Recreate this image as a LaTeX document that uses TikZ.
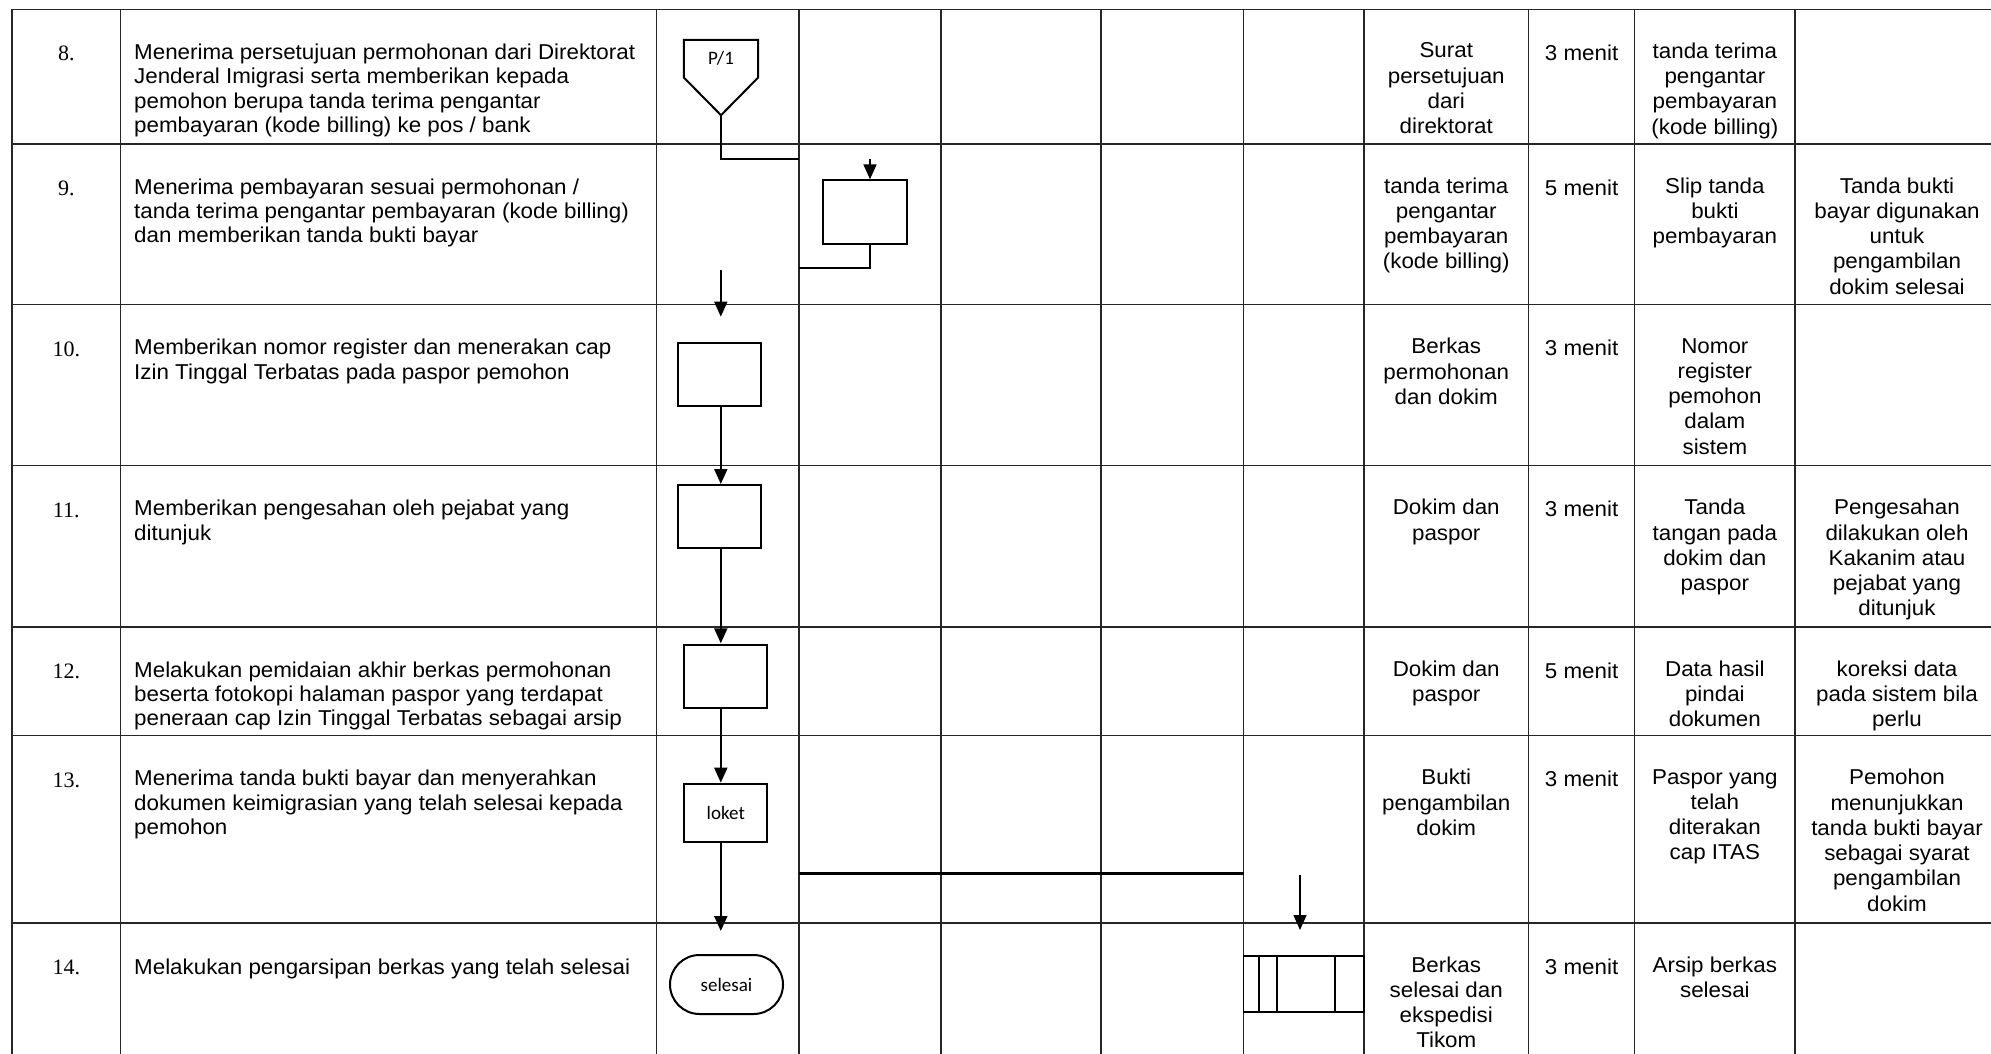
\documentclass[tikz,border=0pt]{standalone}
\usepackage{fontspec}
\setmainfont{Liberation Sans}[FakeStretch=1.04]
\newfontfamily\numfont{Liberation Serif}
\newfontfamily\flowfont{Carlito}
\usetikzlibrary{arrows.meta,calc}
\begin{document}
\begin{tikzpicture}[x=1pt,y=-1pt,
  grid/.style={line width=1.15pt, black!85},
  desc/.style={anchor=north west, inner sep=0pt, align=left, font=\fontsize{21.5}{24.3}\selectfont, execute at begin node=\strut},
  cell/.style={anchor=north, inner sep=0pt, align=center, font=\fontsize{21.5}{25.3}\selectfont, execute at begin node=\strut},
  num/.style={anchor=base, inner sep=0pt, font=\numfont\fontsize{22}{24}\selectfont},
  flowtext/.style={inner sep=0pt, font=\flowfont\fontsize{19}{22}\selectfont},
  proc/.style={draw, line width=2pt, minimum width=83.2pt, minimum height=62.7pt, inner sep=0pt},
  flow/.style={line width=2pt},
  arr/.style={-{Triangle[width=13pt,length=15pt]}, line width=2pt},
  thinarr/.style={-{Triangle[width=13pt,length=15pt]}, line width=1.5pt},
]
\useasboundingbox (0,0) rectangle (1991,1053);
\clip (0,0) rectangle (1991,1053);
\fill[white] (0,0) rectangle (1991,1053);

% table grid
\foreach \x in {12,120.6,656.5,799,941,1101,1243.5,1364,1528.5,1634.7,1795,1999}
  \draw[grid] (\x,9.3) -- (\x,1060);
\foreach \y in {9.3,144,304.7,465.7,627,735.7,923}
  \draw[grid] (12,\y) -- (1999,\y);

% numbers
\node[num] (n8)  at (66.3,60.7)  {8.};
\node[num] (n9)  at (66.3,195.4) {9.};
\node[num] (n10) at (66.3,356.1) {10.};
\node[num] (n11) at (66.3,517.1) {11.};
\node[num] (n12) at (66.3,678.4) {12.};
\node[num] (n13) at (66.3,787.1) {13.};
\node[num] (n14) at (66.3,974.4) {14.};

% descriptions
\node[desc] (d8) at (134,43.7) {Menerima persetujuan permohonan dari Direktorat\\Jenderal Imigrasi serta memberikan kepada\\pemohon berupa tanda terima pengantar\\pembayaran (kode billing) ke pos / bank};
\node[desc] (d9) at (134,178.4) {Menerima pembayaran sesuai permohonan /\\tanda terima pengantar pembayaran (kode billing)\\dan memberikan tanda bukti bayar};
\node[desc] (d10) at (134,339.1) {Memberikan nomor register dan menerakan cap\\Izin Tinggal Terbatas pada paspor pemohon};
\node[desc] (d11) at (134,500.1) {Memberikan pengesahan oleh pejabat yang\\ditunjuk};
\node[desc] (d12) at (134,661.4) {Melakukan pemidaian akhir berkas permohonan\\beserta fotokopi halaman paspor yang terdapat\\peneraan cap Izin Tinggal Terbatas sebagai arsip};
\node[desc] (d13) at (134,770.1) {Menerima tanda bukti bayar dan menyerahkan\\dokumen keimigrasian yang telah selesai kepada\\pemohon};
\node[desc] (d14) at (134,957.4) {Melakukan pengarsipan berkas yang telah selesai};

% right columns
% row 8
\node[cell] (a8) at (1446.25,42.6) {Surat\\persetujuan\\dari\\direktorat};
\node[cell] (w8) at (1581.6,42.6) {3 menit};
\node[cell] (o8) at (1714.85,42.6) {tanda terima\\pengantar\\pembayaran\\(kode billing)};
% row 9
\node[cell] (a9) at (1446.25,177.3) {tanda terima\\pengantar\\pembayaran\\(kode billing)};
\node[cell] (w9) at (1581.6,177.3) {5 menit};
\node[cell] (o9) at (1714.85,177.3) {Slip tanda\\bukti\\pembayaran};
\node[cell] (k9) at (1897,177.3) {Tanda bukti\\bayar digunakan\\untuk\\pengambilan\\dokim selesai};
% row 10
\node[cell] (a10) at (1446.25,338) {Berkas\\permohonan\\dan dokim};
\node[cell] (w10) at (1581.6,338) {3 menit};
\node[cell] (o10) at (1714.85,338) {Nomor\\register\\pemohon\\dalam\\sistem};
% row 11
\node[cell] (a11) at (1446.25,499) {Dokim dan\\paspor};
\node[cell] (w11) at (1581.6,499) {3 menit};
\node[cell] (o11) at (1714.85,499) {Tanda\\tangan pada\\dokim dan\\paspor};
\node[cell] (k11) at (1897,499) {Pengesahan\\dilakukan oleh\\Kakanim atau\\pejabat yang\\ditunjuk};
% row 12
\node[cell] (a12) at (1446.25,660.3) {Dokim dan\\paspor};
\node[cell] (w12) at (1581.6,660.3) {5 menit};
\node[cell] (o12) at (1714.85,660.3) {Data hasil\\pindai\\dokumen};
\node[cell] (k12) at (1897,660.3) {koreksi data\\pada sistem bila\\perlu};
% row 13
\node[cell] (a13) at (1446.25,769) {Bukti\\pengambilan\\dokim};
\node[cell] (w13) at (1581.6,769) {3 menit};
\node[cell] (o13) at (1714.85,769) {Paspor yang\\telah\\diterakan\\cap ITAS};
\node[cell] (k13) at (1897,769) {Pemohon\\menunjukkan\\tanda bukti bayar\\sebagai syarat\\pengambilan\\dokim};
% row 14
\node[cell] (a14) at (1446.25,956.3) {Berkas\\selesai dan\\ekspedisi\\Tikom};
\node[cell] (w14) at (1581.6,956.3) {3 menit};
\node[cell] (o14) at (1714.85,956.3) {Arsip berkas\\selesai};

% ---- flowchart ----
% off-page connector P/1
\node[minimum width=74pt, minimum height=75pt, inner sep=0pt] (p1) at (721,77.5) {};
\draw[flow, line join=miter] (p1.north west) -- (p1.north east) -- (p1.east) -- (p1.south) -- (p1.west) -- cycle;
\node[flowtext] (p1t) at (721,58) {P/1};
\coordinate (j1) at (799,159.3);
\draw[flow] (p1.south) |- (j1);

% step 9 box (lane 2)
\node[proc, minimum width=84pt, minimum height=63.4pt] (b9) at (865.2,212) {};
\coordinate (a9in) at (870,159.3);
\draw[arr] (a9in) -- (a9in |- b9.north);
\coordinate (j2) at (799,268.3);
\draw[flow] ($(b9.south)+(4.4,0)$) |- (j2);

% arrow toward step 10
\coordinate (a10in) at (720.8,270);
\draw[thinarr] (a10in) -- ++(0,46.7);

% step 10, 11, 12 boxes
\node[proc] (b10) at (719.2,374.35) {};
\node[proc, minimum height=63pt] (b11) at (719.2,516.5) {};
\node[proc, minimum height=62.4pt] (b12) at (725.8,676.5) {};
\node[proc, minimum height=58.3pt, flowtext] (lok) at (725.8,812.85) {loket};
\node[draw, line width=2pt, minimum width=113pt, minimum height=59pt, rounded corners=29.5pt, flowtext] (sel) at (726.5,984.5) {selesai};

\draw[arr] ($(b10.south)+(1.6,0)$) -- ($(b11.north)+(1.6,0)$);
\draw[arr] ($(b11.south)+(1.6,0)$) -- ($(b12.north)+(-5,-1)$);
\draw[arr] ($(b12.south)+(-5,0)$) -- ($(lok.north)+(-5,0)$);
\draw[arr] ($(lok.south)+(-5,0)$) -- ++(0,88);

% row 13 line and row 14 arrow
\coordinate (h1) at (799,873.7);
\coordinate (h2) at (1243.5,873.7);
\draw[line width=2.5pt] (h1) -- (h2);
\coordinate (a14in) at (1300,875);
\draw[thinarr] (a14in) -- ++(0,55);

% storage symbol (row 14)
\node[draw, line width=1.6pt, minimum width=120.5pt, minimum height=56pt, inner sep=0pt] (arsip) at (1303.75,983.7) {};
\draw[line width=1.6pt] (1259,0 |- arsip.north) -- (1259,0 |- arsip.south);
\draw[line width=1.6pt] (1277,0 |- arsip.north) -- (1277,0 |- arsip.south);
\draw[line width=1.6pt] (1335,0 |- arsip.north) -- (1335,0 |- arsip.south);
\end{tikzpicture}
\end{document}
